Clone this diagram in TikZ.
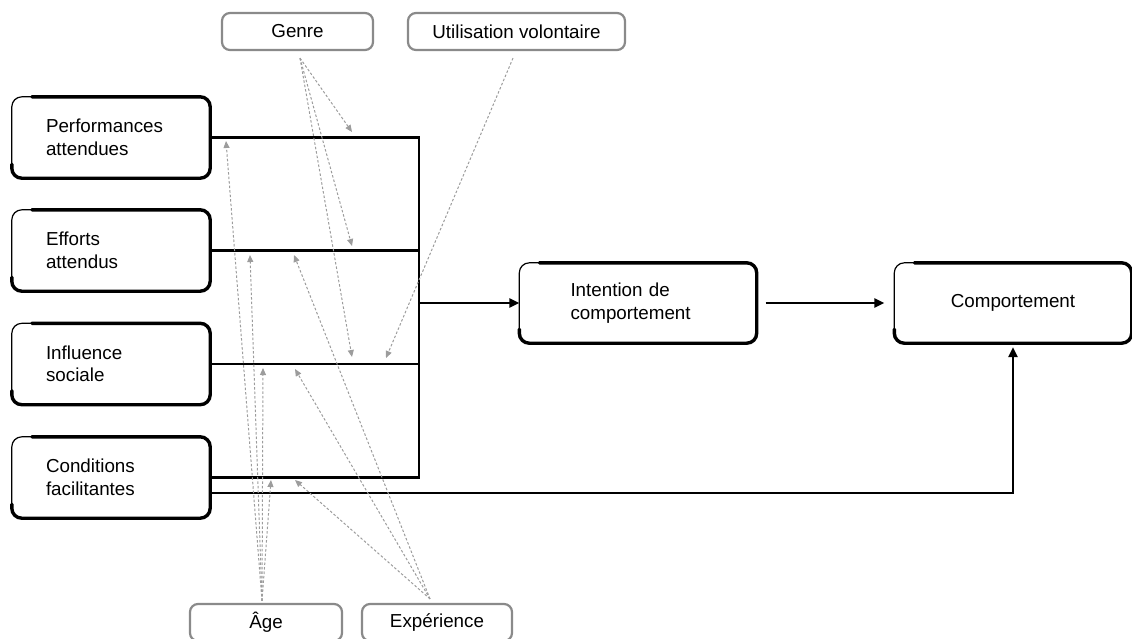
\documentclass[tikz,border=0pt]{standalone}
\usepackage{fontspec}
\setmainfont{Liberation Sans}
\usetikzlibrary{arrows.meta,calc}

\definecolor{modgray}{HTML}{8A8A8A}
\definecolor{dashgray}{HTML}{9C9C9C}
\newcommand\diagfont{\fontsize{18.8}{22.5}\selectfont}

% brush-like outline: thin full frame plus a heavy stroke over top, right and bottom
\newcommand\inkframe[1]{%
  \draw[line width=1.2pt, rounded corners=10pt] (#1.north west) rectangle (#1.south east);
  \draw[line width=3.4pt, rounded corners=10pt, line cap=round]
    ($(#1.north west)+(20,0)$) -- (#1.north east) -- (#1.south east)
    -- (#1.south west) -- ($(#1.south west)+(0,-14)$);
}

\tikzset{
  factor/.style={minimum width=198pt, minimum height=81pt, inner ysep=0pt,
    inner xsep=34pt, text width=130pt, align=left, font=\diagfont},
  outcome/.style={minimum width=237pt, minimum height=80pt, inner ysep=0pt,
    inner xsep=51pt, text width=135pt, align=left, font=\diagfont},
  moder/.style={draw=modgray, line width=2.2pt, rounded corners=8pt, minimum height=37pt,
    inner sep=0pt, font=\diagfont},
  link/.style={line width=2.4pt},
  arrowlink/.style={link, -{Triangle[length=10pt,width=9pt]}},
  modarrow/.style={draw=dashgray, line width=1pt, dash pattern=on 2.5pt off 2pt,
    -{Triangle[length=7pt,width=6pt]}}
}

\begin{document}
\begin{tikzpicture}[x=1pt, y=-1pt]
\useasboundingbox (0,0) rectangle (1132,638);

% determinants
\node[factor] (perf) at (111,137.5) {Performances\\attendues};
\node[factor] (eff)  at (111,250.5) {Efforts\\attendus};
\node[factor] (infl) at (111,364)   {Influence\\sociale};
\node[factor] (cond) at (111,477.5) {Conditions\\facilitantes};
\foreach \b in {perf,eff,infl,cond} {\inkframe{\b}}

% outcomes
\node[outcome] (intent) at (638,303) {Intention de\\comportement};
\node[outcome, inner xsep=0pt, text width=237pt, align=center] (comp) at (1013,303) {Comportement};
\inkframe{intent}
\inkframe{comp}

% moderators
\node[moder, minimum width=151pt] (genre) at (297.5,31.5) {Genre};
\node[moder, minimum width=217pt] (util)  at (516.5,31.5) {Utilisation volontaire};
\node[moder, minimum width=152pt] (age)   at (266,622.5)  {Âge};
\node[moder, minimum width=150pt] (exp)   at (437,622.5)  {Expérience};

% collector bar
\coordinate (bus) at (419,303);
\draw[link] (perf.east) -| (cond.east -| bus) -- (cond.east);
\draw[link] (eff.east) -- (eff.east -| bus);
\draw[link] (infl.east) -- (infl.east -| bus);
\draw[arrowlink] (bus) -- (intent.west);
\draw[arrowlink, shorten <=9pt, shorten >=10pt] (intent.east) -- (comp.west);
\draw[arrowlink, shorten >=4pt] ([yshift=-15.5pt]cond.east) -| (comp.south);

% moderating effects
\coordinate (gPE) at (352,132);
\coordinate (gEE) at (352,246);
\coordinate (gSI) at (352,357);
\coordinate (vSI) at (386,358);
\coordinate (aPE) at (226,141);
\coordinate (aEE) at (250,255);
\coordinate (aSI) at (263,368);
\coordinate (aFC) at (271,480);
\coordinate (eEE) at (294,255);
\coordinate (eSI) at (295,369);
\coordinate (eFC) at (295,480);

\foreach \t in {gPE,gEE,gSI} {\draw[modarrow] ($(genre.south)+(2.5,7)$) -- (\t);}
\draw[modarrow] ($(util.south)+(-3.5,7)$) -- (vSI);
\foreach \t in {aPE,aEE,aSI,aFC} {\draw[modarrow] ($(age.north)+(-4,-2)$) -- (\t);}
\foreach \t in {eEE,eSI,eFC} {\draw[modarrow] ($(exp.north)+(-7,-4)$) -- (\t);}
\end{tikzpicture}
\end{document}
